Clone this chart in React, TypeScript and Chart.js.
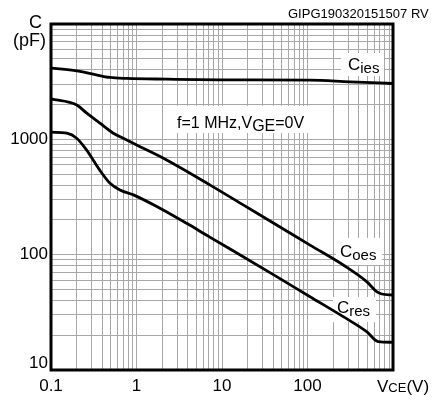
import React, { useEffect, useRef } from 'react';
import { Chart, registerables } from 'chart.js';

Chart.register(...registerables);

// ---- data ----
const ciesV = [0.1, 0.2, 0.31, 0.49, 0.77, 2.25, 9.5, 107, 314, 1000];
const ciesC = [4140, 3925, 3675, 3440, 3375, 3325, 3280, 3260, 3150, 3050];

const coesV = [0.1, 0.2, 0.26, 0.37, 0.53, 0.77, 1.1, 2.25, 7.2, 17.7, 43.6, 107, 262, 492, 644, 738, 1000];
const coesC = [2240, 1985, 1693, 1387, 1136, 987, 864, 662, 403, 270, 181, 121, 81.4, 58.4, 47.8, 45.6, 44.7];

const cresV = [0.1, 0.153, 0.2, 0.26, 0.37, 0.49, 0.64, 0.92, 1.88, 3.86, 7.2, 17.7, 43.6, 107, 262, 492, 673, 1000];
const cresC = [1153, 1130, 1023, 809, 543, 416, 364, 330, 253, 187, 142, 96, 64.5, 43.2, 29, 21.5, 17.6, 17.4];

const xTickLabels = [0.1, 1, 10, 100];
const yTickLabels = [10, 100, 1000];
const xMin = 0.1;
const xMax = 1000;
const yMin = 10;
const yMax = 10000;

// log grid values (1..9 x 10^n)
function logGrid(minExp: number, maxExp: number): number[] {
  const out: number[] = [];
  for (let e = minExp; e < maxExp; e++) {
    for (let m = 1; m <= 9; m++) out.push(Number((m * Math.pow(10, e)).toPrecision(6)));
  }
  out.push(Number(Math.pow(10, maxExp).toPrecision(6)));
  return out;
}
const xGrid = logGrid(-1, 3);
const yGrid = logGrid(1, 4);

const FONT = '"Liberation Sans", Arial, Helvetica, sans-serif';

function findLabel(list: number[], v: number): number | undefined {
  return list.find((t) => Math.abs(t - v) / t < 1e-6);
}

type Run = [string, number, number]; // text, font size, baseline offset
function drawRuns(ctx: CanvasRenderingContext2D, x: number, y: number, runs: Run[]) {
  let cx = x;
  for (const [t, size, dy] of runs) {
    ctx.font = `${size}px ${FONT}`;
    ctx.fillText(t, cx, y + dy);
    cx += ctx.measureText(t).width;
  }
}

const decor = {
  id: 'decor',
  beforeDatasetsDraw(chart: any) {
    const ctx: CanvasRenderingContext2D = chart.ctx;
    ctx.save();
    ctx.fillStyle = '#ffffff';
    ctx.fillRect(341, 53, 43, 23);
    ctx.fillRect(336, 238, 46, 27);
    ctx.fillRect(333, 297, 43, 25);
    ctx.fillRect(163, 106, 154, 27);
    ctx.fillStyle = '#000000';
    ctx.textAlign = 'left';
    ctx.textBaseline = 'alphabetic';
    drawRuns(ctx, 348, 70, [['C', 17, 0], ['ies', 15, 3]]);
    drawRuns(ctx, 340, 257, [['C', 17, 0], ['oes', 15, 3]]);
    drawRuns(ctx, 337, 313, [['C', 17, 0], ['res', 15, 3]]);
    drawRuns(ctx, 177, 128, [['f=1 MHz,', 16, 0], ['V', 16, 0], ['GE', 16, 2.5], ['=0V', 16, 0]]);
    ctx.restore();
  },
  afterDraw(chart: any) {
    const ctx: CanvasRenderingContext2D = chart.ctx;
    const a = chart.chartArea;
    ctx.save();
    ctx.strokeStyle = '#000000';
    ctx.lineWidth = 3;
    ctx.strokeRect(a.left, a.top, a.right - a.left, a.bottom - a.top);
    ctx.fillStyle = '#000000';
    ctx.textAlign = 'left';
    ctx.textBaseline = 'alphabetic';
    drawRuns(ctx, 29, 28, [['C', 18, 0]]);
    drawRuns(ctx, 13, 46, [['(pF)', 18, 0]]);
    drawRuns(ctx, 288, 18, [['GIPG190320151507 RV', 13, 0]]);
    drawRuns(ctx, 377, 392, [['V', 17, 0], ['CE', 13, 0], ['(V)', 17, 0]]);
    ctx.restore();
  },
};

function toPoints(xs: number[], ys: number[]) {
  return xs.map((x, i) => ({ x, y: ys[i] }));
}

export default function App() {
  const ref = useRef<HTMLCanvasElement | null>(null);

  useEffect(() => {
    if (!ref.current) return;
    const lineStyle = {
      borderColor: '#000000',
      borderWidth: 2.8,
      pointRadius: 0,
      fill: false,
      cubicInterpolationMode: 'monotone' as const,
    };
    const chart = new Chart(ref.current, {
      type: 'line',
      data: {
        datasets: [
          { label: 'Cies', data: toPoints(ciesV, ciesC), ...lineStyle },
          { label: 'Coes', data: toPoints(coesV, coesC), ...lineStyle },
          { label: 'Cres', data: toPoints(cresV, cresC), ...lineStyle },
        ],
      },
      options: {
        animation: false,
        responsive: true,
        maintainAspectRatio: false,
        layout: { padding: { top: 24, right: 39, left: 0, bottom: 0 } },
        plugins: { legend: { display: false }, tooltip: { enabled: false } },
        scales: {
          x: {
            type: 'logarithmic',
            min: xMin,
            max: xMax,
            border: { display: false },
            grid: { color: '#a8a8a8', lineWidth: 1, drawTicks: false },
            afterBuildTicks: (scale: any) => {
              scale.ticks = xGrid.map((v) => ({ value: v }));
            },
            afterFit: (scale: any) => {
              scale.height = 30;
            },
            ticks: {
              autoSkip: false,
              maxRotation: 0,
              padding: 6,
              color: '#000000',
              font: { family: FONT, size: 17 },
              callback: (v: any) => {
                const hit = findLabel(xTickLabels, Number(v));
                return hit === undefined ? '' : String(hit);
              },
            },
          },
          y: {
            type: 'logarithmic',
            min: yMin,
            max: yMax,
            border: { display: false },
            grid: { color: '#a8a8a8', lineWidth: 1, drawTicks: false },
            afterBuildTicks: (scale: any) => {
              scale.ticks = yGrid.map((v) => ({ value: v }));
            },
            afterFit: (scale: any) => {
              scale.width = 51;
            },
            ticks: {
              autoSkip: false,
              padding: 3,
              color: '#000000',
              font: { family: FONT, size: 17, lineHeight: 0.75 },
              callback: (v: any) => {
                const hit = findLabel(yTickLabels, Number(v));
                if (hit === undefined) return '';
                if (hit === yMin) return [String(hit), ''];
                return String(hit);
              },
            },
          },
        },
      },
      plugins: [decor],
    });
    return () => chart.destroy();
  }, []);

  return (
    <div style={{ position: 'fixed', left: 0, top: 0, width: 432, height: 400, background: '#ffffff' }}>
      <canvas ref={ref} />
    </div>
  );
}
